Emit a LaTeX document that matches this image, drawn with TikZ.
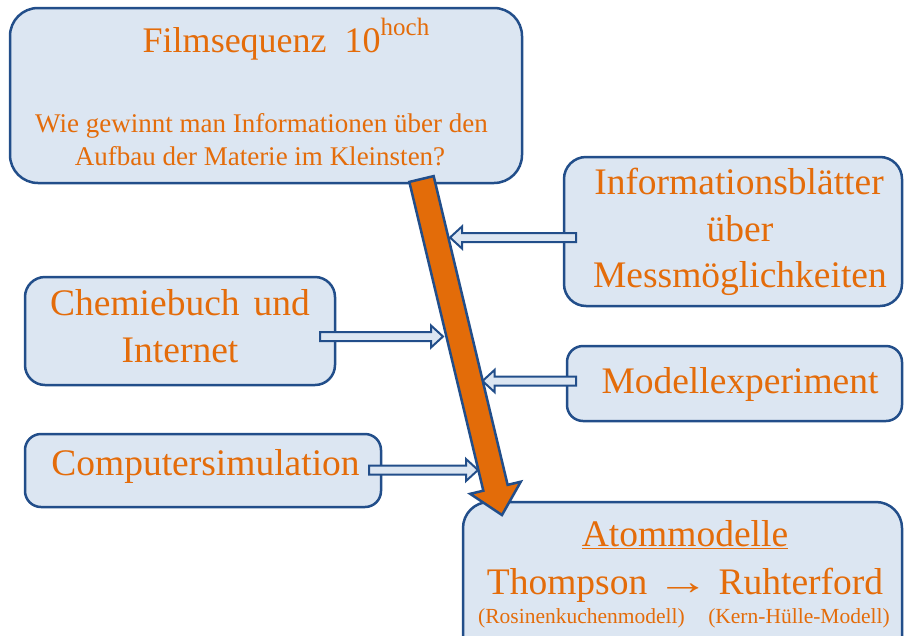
\documentclass[tikz,border=0pt]{standalone}
\usepackage{fontspec}
\usepackage{graphicx}
\setmainfont{Liberation Serif}
\usetikzlibrary{calc}
\definecolor{bdr}{RGB}{34,78,138}
\definecolor{bfill}{RGB}{220,230,242}
\definecolor{org}{RGB}{228,108,10}
\definecolor{aorg}{RGB}{227,108,9}
\newcommand\blockarrow[6]{%
  \coordinate (ba-b) at ($(#2)!#5!(#1)$);
  \filldraw[#6] ($(#1)!#3!90:(#2)$) -- ($(ba-b)!#3!90:(#2)$) -- ($(ba-b)!#4!90:(#2)$) -- (#2)
    -- ($(ba-b)!#4!-90:(#2)$) -- ($(ba-b)!#3!-90:(#2)$) -- ($(#1)!#3!-90:(#2)$) -- cycle;}
\newcommand\fsz[1]{\fontsize{#1}{#1}\selectfont}
\tikzset{
  box/.style={draw=bdr, fill=bfill, line width=2.5pt, rounded corners=#1, inner sep=0pt, outer sep=0pt},
  box/.default=20pt,
  lbl/.style={text=org, inner sep=0pt, anchor=base},
  smallarr/.style={draw=bdr, fill=bfill, line width=2pt, line join=miter},
  bigarr/.style={draw=bdr, fill=aorg, line width=2.5pt, line join=miter},
}
\begin{document}
\begin{tikzpicture}[x=1pt, y=-1pt]
\useasboundingbox (0,0) rectangle (904,635);
\clip (0,0) rectangle (904,635);
% boxes
\node[box=28pt, minimum width=512pt, minimum height=175pt] (film) at (266,95.5) {};
\node[box=22pt, minimum width=338pt, minimum height=149pt] (info) at (733,231.5) {};
\node[box=20pt, minimum width=310pt, minimum height=108pt] (chem) at (180,331) {};
\node[box=16pt, minimum width=335pt, minimum height=75pt] (modell) at (734.5,383.5) {};
\node[box=16pt, minimum width=356pt, minimum height=73pt] (comp) at (203,470.5) {};
\node[box=26pt, minimum width=439pt, minimum height=160pt] (atom) at (682.5,582) {};
% texts
\node[lbl] (t-film) at (286,52) {\fsz{36}Filmsequenz\ \ 10\raisebox{17pt}{\fsz{25}hoch}};
\node[lbl] (t-q1) at (261.5,132) {\fsz{27}Wie gewinnt man Informationen über den};
\node[lbl] (t-q2) at (260,165) {\fsz{27}Aufbau der Materie im Kleinsten?};
\node[lbl] (t-i1) at (739,194) {\fsz{37.5}Informationsblätter};
\node[lbl] (t-i2) at (740,241) {\fsz{37.5}über};
\node[lbl] (t-i3) at (740,287) {\fsz{37.5}Messmöglichkeiten};
\node[lbl] (t-c1) at (180,315) {\fsz{37.5}Chemiebuch\hspace{14pt}und};
\node[lbl] (t-c2) at (180,362) {\fsz{37.5}Internet};
\node[lbl] (t-m) at (740,393) {\fsz{37.5}Modellexperiment};
\node[lbl] (t-cs) at (205.5,475) {\fsz{37.5}Computersimulation};
\node[lbl] (t-a1) at (685,546) {\fsz{37.5}\underline{Atommodelle}};
\node[lbl] (t-a2) at (685,594) {\fsz{37.5}Thompson \scalebox{1.4}[1]{→} Ruhterford};
\node[lbl] (t-a3) at (581.5,623) {\fsz{21.5}(Rosinenkuchenmodell)};
\node[lbl] (t-a4) at (799,623) {\fsz{21.5}(Kern-Hülle-Modell)};
% small arrows
\coordinate (s1) at (576,237.5);   \coordinate (e1) at (450,237.5);
\coordinate (s2) at (320,336.5);   \coordinate (e2) at (443,336.5);
\coordinate (s3) at (576,381);     \coordinate (e3) at (482.5,381);
\coordinate (s4) at (369,470);     \coordinate (e4) at (478,470);
\blockarrow{s1}{e1}{4.5pt}{11pt}{12pt}{smallarr}
\blockarrow{s2}{e2}{4.5pt}{11pt}{12pt}{smallarr}
\blockarrow{s3}{e3}{4.5pt}{11pt}{12pt}{smallarr}
\blockarrow{s4}{e4}{4.5pt}{11pt}{12pt}{smallarr}
% big arrow
\coordinate (bs) at (421.5,179);
\coordinate (bt) at (502,515);
\blockarrow{bs}{bt}{12.5pt}{26pt}{28pt}{bigarr}
\end{tikzpicture}
\end{document}
